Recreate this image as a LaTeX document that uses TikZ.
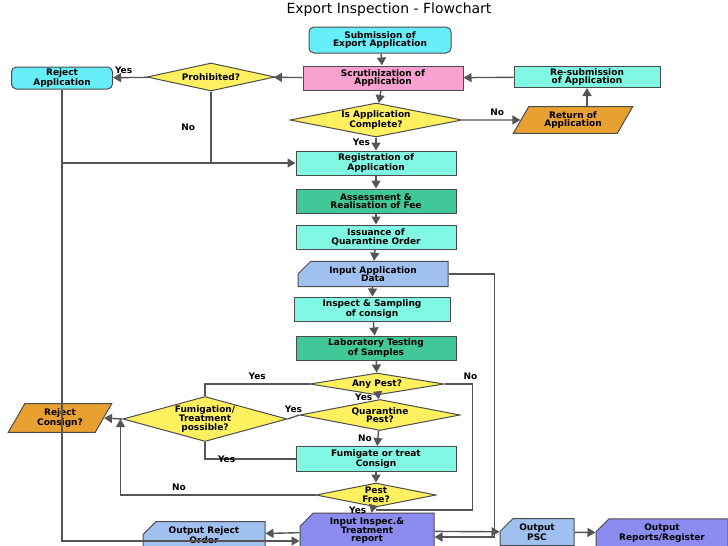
\documentclass[tikz,border=0pt]{standalone}
\usepackage{fontspec}
\setmainfont{DejaVu Sans}
\usetikzlibrary{shapes.geometric,shapes.misc,arrows.meta}
\definecolor{cyanbox}{HTML}{66EEFA}
\definecolor{pinkbox}{HTML}{F8A0D0}
\definecolor{aquabox}{HTML}{80F8E4}
\definecolor{greenbox}{HTML}{40C898}
\definecolor{yellowbox}{HTML}{FFF060}
\definecolor{orangebox}{HTML}{E8A030}
\definecolor{bluebox}{HTML}{A0C0F0}
\definecolor{purplebox}{HTML}{8C8CF0}
\definecolor{linegray}{HTML}{555555}
\tikzset{
  base/.style={draw=black!70, line width=1pt, align=center, inner sep=0pt,
    font=\fontsize{9}{8.5}\selectfont\bfseries},
  proc/.style={base, rectangle, fill=aquabox, minimum width=160pt, minimum height=24pt},
  term/.style={base, rounded corners=5pt, fill=cyanbox, minimum height=24pt},
  decision/.style={base, diamond, fill=yellowbox},
  io/.style={base, trapezium, trapezium left angle=60, trapezium right angle=120,
    fill=orangebox, minimum height=18pt},
  data/.style={base, chamfered rectangle, chamfered rectangle corners=north west,
    chamfered rectangle xsep=8pt, chamfered rectangle ysep=5pt, fill=bluebox},
  flow/.style={draw=linegray, line width=1.4pt, -{Triangle[width=9pt,length=8pt]}},
  line/.style={draw=linegray, line width=1.4pt},
  lbl/.style={font=\fontsize{9}{8.5}\selectfont\bfseries}
}
\begin{document}
\begin{tikzpicture}[x=1pt,y=-1pt]
  \useasboundingbox (0,0) rectangle (728,546);

  % Title
  \node[font=\fontsize{14}{15}\selectfont] (title) at (389,10) {Export Inspection - Flowchart};

  % Top row
  \node[term, minimum width=142pt, minimum height=26pt] (sub) at (380,40) {Submission of\\Export Application};
  \node[proc, fill=pinkbox] (scrut) at (383,78) {Scrutinization of\\Application};
  \node[decision, shape aspect=4.57, minimum width=128pt, minimum height=28pt] (prohib) at (211,77) {Prohibited?};
  \node[term, minimum width=101pt, minimum height=22pt] (rejapp) at (62,78) {Reject\\Application};
  \node[proc, minimum width=146pt, minimum height=21pt] (resub) at (587,77) {Re-submission\\of Application};
  \node[decision, shape aspect=5.06, minimum width=172pt, minimum height=34pt] (complete) at (376,120) {Is Application\\Complete?};
  \node[io, minimum width=120pt] (return) at (573,120) {Return of\\Application};

  % Main column
  \node[proc] (reg) at (376,163) {Registration of\\Application};
  \node[proc, fill=greenbox] (assess) at (376,201) {Assessment \&\\Realisation of Fee};
  \node[proc] (issue) at (376,237) {Issuance of\\Quarantine Order};
  \node[data, minimum width=150pt, minimum height=24pt] (indata) at (373,274) {Input Application\\Data};
  \node[proc, minimum width=156pt] (inspect) at (372,309) {Inspect \& Sampling\\of consign};
  \node[proc, fill=greenbox] (lab) at (376,348) {Laboratory Testing\\of Samples};
  \node[decision, shape aspect=6.1, minimum width=134pt, minimum height=22pt] (anypest) at (377,384) {Any Pest?};
  \node[decision, shape aspect=5.16, minimum width=160pt, minimum height=31pt] (quar) at (380,415) {Quarantine\\Pest?};
  \node[proc, minimum height=25pt] (fumig) at (376,459) {Fumigate or treat\\Consign};
  \node[decision, shape aspect=5, minimum width=120pt, minimum height=24pt] (pestfree) at (376,495) {Pest\\Free?};
  \node[data, fill=purplebox, minimum width=134pt, minimum height=30pt] (ininsp) at (367,531) {Input Inspec.\&\\Treatment\\report};

  % Left side
  \node[decision, shape aspect=3.64, minimum width=164pt, minimum height=45pt] (treatok) at (205,419) {Fumigation/\\Treatment\\possible?};
  \node[io, minimum width=104pt, minimum height=22pt] (rejcons) at (60,418) {Reject\\Consign?};

  % Outputs
  \node[data, minimum width=122pt, minimum height=21pt] (outrej) at (204,535) {Output Reject\\Order};
  \node[data, minimum width=74pt, minimum height=27pt] (outpsc) at (537,532) {Output\\PSC};
  \node[data, fill=purplebox, minimum width=132pt, minimum height=26pt] (outrep) at (662,533) {Output\\Reports/Register};

  % Connectors, top
  \draw[flow] (sub) -- (scrut);
  \draw[flow] (scrut) -- (prohib);
  \draw[flow] (prohib) -- node[lbl, above, pos=0.7] {Yes} (rejapp);
  \draw[line] (prohib.south) -- node[lbl, left=12pt] {No} (prohib.south |- reg.west);
  \draw[flow] (rejapp.south) |- (reg.west);
  \draw[flow] (scrut) -- (complete);
  \draw[flow] (complete) -- node[lbl, above, pos=0.6] {No} (return);
  \draw[flow] (return.north -| resub) -- (resub);
  \draw[flow] (resub) -- (scrut);
  \draw[flow] (complete) -- node[lbl, left=2pt, pos=0.35] {Yes} (reg);

  % Connectors, main column
  \draw[flow] (reg) -- (assess);
  \draw[flow] (assess) -- (issue);
  \draw[flow] (issue) -- (indata);
  \draw[flow] (indata) -- (inspect);
  \draw[flow] (inspect) -- (lab);
  \draw[flow] (lab) -- (anypest);
  \draw[flow] (anypest) -- node[lbl, left=2pt] {Yes} (quar);
  \draw[flow] (quar) -- node[lbl, left=2pt] {No} (fumig);
  \draw[flow] (fumig) -- (pestfree);
  \draw[flow] (pestfree) -- node[lbl, left=2pt] {Yes} (ininsp);
  \draw[flow] (indata.east) -- ++(46,0) |- ([yshift=-6pt]ininsp.east);
  \draw[line] (anypest.east) -- ++(28,0) node[lbl, above, xshift=-2pt] {No} |- (376,510);
  \draw[flow] (rejapp.south) |- ([yshift=-10pt]ininsp.west);

  % Connectors, pest branch
  \draw[line] (anypest.west) -| node[lbl, above, pos=0.25] {Yes} (treatok.north);
  \draw[line] (quar.west) -- node[lbl, above] {Yes} (treatok.east);
  \draw[line] (treatok.south) |- node[lbl, left=2pt, pos=0.7] {Yes} (fumig.west);
  \draw[flow] (treatok.west) -- (rejcons.east);
  \draw[flow] (pestfree.west) -| node[lbl, above, pos=0.35] {No} ([xshift=-2pt]treatok.west);

  % Connectors, outputs
  \draw[flow] (ininsp) -- (outrej);
  \draw[flow] (ininsp) -- (outpsc);
  \draw[flow] (outpsc) -- (outrep);
\end{tikzpicture}
\end{document}
